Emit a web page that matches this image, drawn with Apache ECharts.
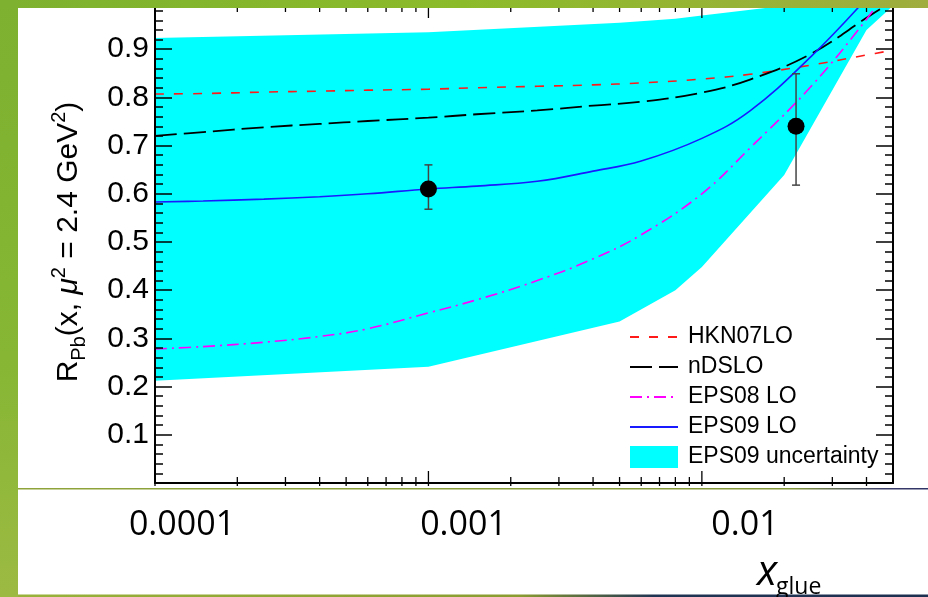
<!DOCTYPE html>
<html><head><meta charset="utf-8">
<script src="https://cdn.jsdelivr.net/npm/echarts@6/dist/echarts.min.js"></script>
<style>html,body{margin:0;padding:0;background:#fff}#c{width:928px;height:597px}</style>
</head><body><div id="c"></div>
<script>
// ---- data ----
const xValues = [1e-4, 1.5e-4, 2.5e-4, 4e-4, 6e-4, 1e-3, 1.5e-3, 2.5e-3, 4e-3, 6e-3, 1e-2, 1.5e-2, 2.5e-2, 4e-2, 5e-2];
const hkn07 = [0.807, 0.808, 0.811, 0.813, 0.815, 0.817, 0.820, 0.823, 0.826, 0.830, 0.838, 0.848, 0.867, 0.888, 0.898];
const ndslo = [0.720, 0.728, 0.738, 0.745, 0.751, 0.758, 0.765, 0.773, 0.783, 0.791, 0.810, 0.837, 0.890, 0.965, 1.000];
const eps08 = [0.278, 0.283, 0.292, 0.304, 0.320, 0.353, 0.380, 0.420, 0.465, 0.515, 0.600, 0.695, 0.822, 0.962, 1.040];
const eps09 = [0.583, 0.585, 0.589, 0.594, 0.600, 0.610, 0.616, 0.626, 0.647, 0.668, 0.715, 0.772, 0.884, 1.005, 1.070];
const bandX = [1e-4, 1e-3, 5e-3, 8e-3, 1e-2, 2e-2, 4e-2, 5e-2];
const bandLow = [0.212, 0.241, 0.335, 0.400, 0.448, 0.639, 0.940, 0.990];
const bandHigh = [0.923, 0.935, 0.955, 0.963, 0.970, 0.990, 1.030, 1.050];
const pointX = [1e-3, 0.0221];
const pointY = [0.61, 0.74];
const pointLo = [0.568, 0.618];
const pointHi = [0.660, 0.849];
const xTickLabels = ['0.0001', '0.001', '0.01'];
const yTickLabels = ['0.1', '0.2', '0.3', '0.4', '0.5', '0.6', '0.7', '0.8', '0.9'];
const decades = [1e-4, 1e-3, 1e-2];
const minorMultipliers = [2, 3, 4, 5, 6, 7, 8, 9];
const xMin = 1e-4, xMax = 0.05;

// ---- derived ----
const pairs = (xs, ys) => xs.map((x, i) => [x, ys[i]]);
const xTicks = [];
decades.forEach(d => {
  xTicks.push([d, 1]);
  minorMultipliers.forEach(k => { const v = k * d; if (v < xMax * 0.999) xTicks.push([v, 0]); });
});
const errData = pointX.map((x, i) => [x, pointLo[i], pointHi[i]]);

const FONT = 'Liberation Sans';
const chart = echarts.init(document.getElementById('c'), null, {renderer: 'canvas'});

function renderTicks(params, api) {
  const x = api.coord([api.value(0), 0.5])[0];
  const major = api.value(1) === 1;
  const cs = params.coordSys;
  const yb = cs.y + cs.height, yt = cs.y;
  const st = {stroke: '#000', lineWidth: 1.3};
  return {type: 'group', children: [
    {type: 'line', shape: {x1: x, y1: yb + 3, x2: x, y2: yb - (major ? 12 : 6)}, style: st},
    {type: 'line', shape: {x1: x, y1: yt, x2: x, y2: yt + (major ? 17 : 11)}, style: st}
  ]};
}
function renderErr(params, api) {
  const p1 = api.coord([api.value(0), api.value(1)]);
  const p2 = api.coord([api.value(0), api.value(2)]);
  const st = {stroke: '#444', lineWidth: 1.5};
  return {type: 'group', children: [
    {type: 'line', shape: {x1: p1[0], y1: p1[1], x2: p2[0], y2: p2[1]}, style: st},
    {type: 'line', shape: {x1: p1[0] - 4, y1: p1[1], x2: p1[0] + 4, y2: p1[1]}, style: st},
    {type: 'line', shape: {x1: p2[0] - 4, y1: p2[1], x2: p2[0] + 4, y2: p2[1]}, style: st}
  ]};
}

const yLabelFmt = v => { const i = Math.round(v * 10); return (i >= 1 && i <= 9) ? yTickLabels[i - 1] : ''; };
const axisCommonY = {
  type: 'value', min: 0, max: 1, interval: 0.1, z: 10,
  axisLine: {show: true, lineStyle: {color: '#000', width: 2}},
  axisTick: {show: true, inside: true, length: 17, lineStyle: {color: '#000', width: 1.5}},
  minorTick: {show: true, splitNumber: 5, length: 8, lineStyle: {color: '#000', width: 1.5}},
  splitLine: {show: false}
};

const option = {
  backgroundColor: '#ffffff',
  animation: false,
  grid: [
    {left: 155, top: 1, width: 738, height: 482},
    {left: 182, top: 490, width: 563, height: 10}
  ],
  xAxis: [
    {gridIndex: 0, type: 'log', logBase: 10, min: xMin, max: xMax, z: 10,
     axisLine: {show: true, onZero: false, lineStyle: {color: '#000', width: 2}},
     axisTick: {show: false}, axisLabel: {show: false}, splitLine: {show: false}},
    {gridIndex: 0, type: 'log', logBase: 10, min: xMin, max: xMax, position: 'top', z: 10,
     axisLine: {show: true, onZero: false, lineStyle: {color: '#000', width: 1.5}},
     axisTick: {show: false}, axisLabel: {show: false}, splitLine: {show: false}},
    {gridIndex: 1, type: 'log', logBase: 10, min: 1e-4, max: 1e-2,
     axisLine: {show: false}, axisTick: {show: false}, splitLine: {show: false},
     axisLabel: {show: true, margin: 8, color: '#000', fontFamily: 'Open Sans', fontSize: 34,
       showMinLabel: true, showMaxLabel: true,
       formatter: v => xTickLabels[Math.round(Math.log10(v)) + 4] || ''}}
  ],
  yAxis: [
    Object.assign({}, axisCommonY, {gridIndex: 0, position: 'left',
      axisLabel: {show: true, margin: 6, color: '#000', fontFamily: FONT, fontSize: 30, formatter: yLabelFmt},
      name: '{n|R}{sub|Pb}{n|(x, }{i|μ}{sup|2}{n| = 2.4 GeV}{sup|2}{n|)}',
      nameLocation: 'middle', nameRotate: 90, nameGap: 66,
      nameTextStyle: {color: '#000', fontFamily: FONT, rich: {
        n: {fontSize: 30, lineHeight: 40, fontFamily: FONT, color: '#000'},
        i: {fontSize: 30, lineHeight: 40, fontFamily: FONT, fontStyle: 'italic', color: '#000'},
        sub: {fontSize: 20, lineHeight: 20, verticalAlign: 'bottom', fontFamily: FONT, color: '#000'},
        sup: {fontSize: 20, lineHeight: 20, verticalAlign: 'top', fontFamily: FONT, color: '#000'}
      }}}),
    Object.assign({}, axisCommonY, {gridIndex: 0, position: 'right', axisLabel: {show: false}}),
    {gridIndex: 1, type: 'value', min: 0, max: 1, show: false}
  ],
  legend: {
    orient: 'vertical', left: 624, top: 320, itemWidth: 48, itemHeight: 22, itemGap: 6,
    selectedMode: false,
    textStyle: {fontFamily: FONT, fontSize: 23, color: '#000', padding: [0, 0, 0, 5], lineHeight: 24},
    data: [
      {name: 'HKN07LO', itemStyle: {opacity: 0}},
      {name: 'nDSLO', itemStyle: {opacity: 0}},
      {name: 'EPS08 LO', itemStyle: {opacity: 0}},
      {name: 'EPS09 LO', itemStyle: {opacity: 0}},
      {name: 'EPS09 uncertainty', icon: 'rect', itemStyle: {color: '#00ffff', opacity: 1}}
    ]
  },
  series: [
    {name: 'EPS09 uncertainty', type: 'line', data: pairs(bandX, bandHigh),
     symbol: 'none', lineStyle: {width: 0, color: '#00ffff'}, itemStyle: {color: '#00ffff'},
     areaStyle: {color: '#00ffff', opacity: 1, origin: 'start'}, z: 1, silent: true},
    {name: 'bandLowerEdge', type: 'line', data: pairs(bandX, bandLow),
     symbol: 'none', lineStyle: {width: 0, color: '#ffffff'}, itemStyle: {color: '#ffffff'},
     areaStyle: {color: '#ffffff', opacity: 1, origin: 'start'}, z: 1, silent: true},
    {name: 'HKN07LO', type: 'line', data: pairs(xValues, hkn07), symbol: 'none', smooth: 0.4, z: 3,
     itemStyle: {color: '#ff1a1a'}, lineStyle: {color: '#ff1a1a', width: 1.6, type: [9, 10]}},
    {name: 'nDSLO', type: 'line', data: pairs(xValues, ndslo), symbol: 'none', smooth: 0.4, z: 3,
     itemStyle: {color: '#000000'}, lineStyle: {color: '#000000', width: 1.8, type: [22, 7]}},
    {name: 'EPS08 LO', type: 'line', data: pairs(xValues, eps08), symbol: 'none', smooth: 0.4, z: 3,
     itemStyle: {color: '#ff00ff'}, lineStyle: {color: '#ff00ff', width: 1.6, type: [12, 5, 2, 5]}},
    {name: 'EPS09 LO', type: 'line', data: pairs(xValues, eps09), symbol: 'none', smooth: 0.4, z: 3,
     itemStyle: {color: '#1a1aff'}, lineStyle: {color: '#1a1aff', width: 1.6}},
    {name: 'ticks', type: 'custom', renderItem: renderTicks, data: xTicks, z: 11, silent: true,
     encode: {x: 0, y: 1}},
    {name: 'errors', type: 'custom', renderItem: renderErr, data: errData, z: 4, silent: true,
     encode: {x: 0, y: [1, 2]}},
    {name: 'data', type: 'scatter', data: pairs(pointX, pointY), symbol: 'circle', symbolSize: 17,
     itemStyle: {color: '#000', opacity: 1}, z: 5, silent: true}
  ],
  graphic: {elements: [
    {type: 'rect', z: 100, shape: {x: 0, y: 0, width: 928, height: 8},
     style: {fill: new echarts.graphic.LinearGradient(0, 0, 1, 0, [
       {offset: 0, color: '#7db12f'}, {offset: 0.5, color: '#8cbb2a'}, {offset: 1, color: '#9fad3e'}])}},
    {type: 'rect', z: 100, shape: {x: 0, y: 0, width: 18, height: 597},
     style: {fill: new echarts.graphic.LinearGradient(0, 0, 0, 1, [
       {offset: 0, color: '#7db12f'}, {offset: 0.6, color: '#86b634'}, {offset: 1, color: '#9cba42'}])}},
    {type: 'rect', z: 100, shape: {x: 18, y: 488, width: 910, height: 1.6},
     style: {fill: new echarts.graphic.LinearGradient(0, 0, 1, 0, [
       {offset: 0, color: '#8fa43a'}, {offset: 0.85, color: '#84983a'}, {offset: 0.95, color: '#3d3f6a'}, {offset: 1, color: '#2e3366'}])}},
    {type: 'rect', z: 100, shape: {x: 18, y: 594.5, width: 910, height: 3},
     style: {fill: new echarts.graphic.LinearGradient(0, 0, 1, 0, [
       {offset: 0, color: '#98b23a'}, {offset: 0.55, color: '#8a9c30'}, {offset: 0.7, color: '#1f3352'}, {offset: 1, color: '#1e3050'}])}},
    {type: 'text', z: 100, x: 757, y: 573,
     style: {text: 'x', fill: '#000', font: 'italic 42px "Open Sans"', verticalAlign: 'middle', align: 'left'}},
    {type: 'text', z: 100, x: 776, y: 587,
     style: {text: 'glue', fill: '#000', font: '23px "Open Sans"', verticalAlign: 'middle', align: 'left'}}
  ]}
};
chart.setOption(option);
</script></body></html>
